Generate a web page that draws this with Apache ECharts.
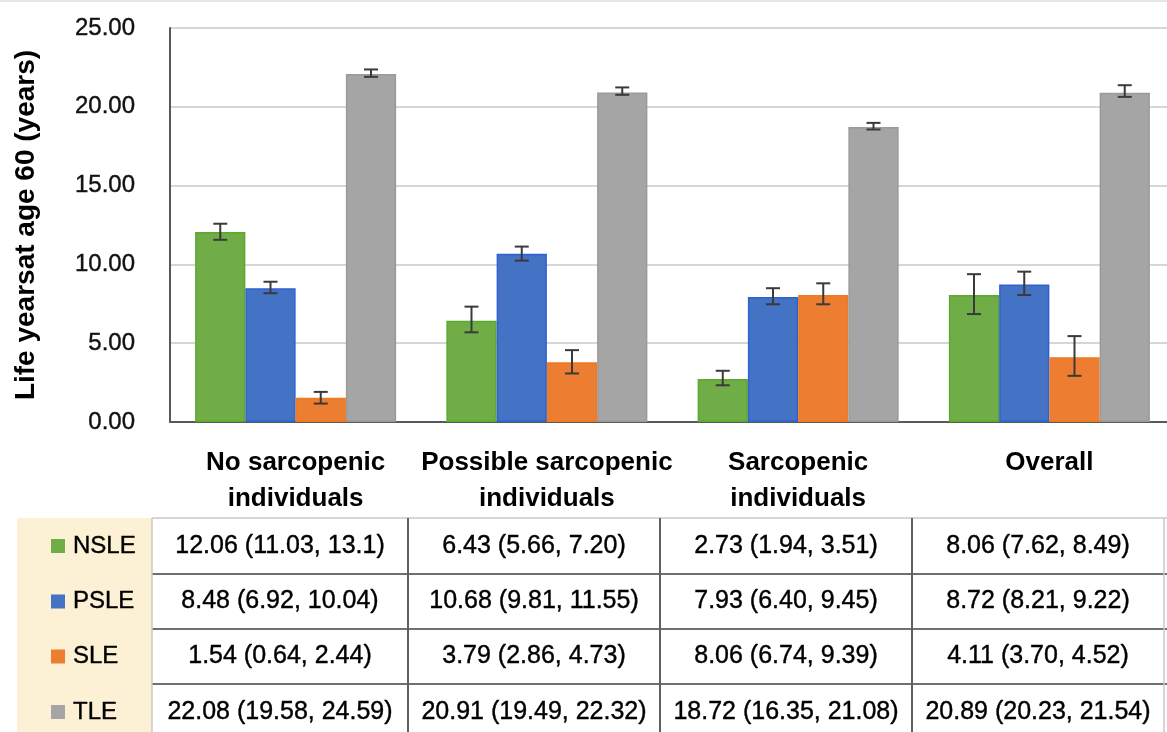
<!DOCTYPE html>
<html>
<head>
<meta charset="utf-8">
<script src="https://cdn.jsdelivr.net/npm/echarts@6/dist/echarts.min.js"></script>
<style>
html,body{margin:0;padding:0;background:#fff;}
#chart{width:1167px;height:732px;}
</style>
</head>
<body>
<div id="chart"></div>
<script>
// ---- data ----
const categories = ['No sarcopenic\nindividuals', 'Possible sarcopenic\nindividuals', 'Sarcopenic\nindividuals', 'Overall'];
const seriesNames = ['NSLE', 'PSLE', 'SLE', 'TLE'];
const nsle = [12.06, 6.43, 2.73, 8.06];
const psle = [8.48, 10.68, 7.93, 8.72];
const sle  = [1.54, 3.79, 8.06, 4.11];
const tle  = [22.08, 20.91, 18.72, 20.89];
// confidence intervals as printed in the table
const nsleCI = [['11.03', '13.1'], ['5.66', '7.20'], ['1.94', '3.51'], ['7.62', '8.49']];
const psleCI = [['6.92', '10.04'], ['9.81', '11.55'], ['6.40', '9.45'], ['8.21', '9.22']];
const sleCI  = [['0.64', '2.44'], ['2.86', '4.73'], ['6.74', '9.39'], ['3.70', '4.52']];
const tleCI  = [['19.58', '24.59'], ['19.49', '22.32'], ['16.35', '21.08'], ['20.23', '21.54']];
// error bars as drawn in the chart (low, high)
const nsleErr = [[11.56, 12.58], [5.69, 7.32], [2.33, 3.25], [6.85, 9.38]];
const psleErr = [[8.17, 8.90], [10.24, 11.13], [7.47, 8.49], [8.06, 9.54]];
const sleErr  = [[1.17, 1.91], [3.08, 4.56], [7.47, 8.80], [2.93, 5.45]];
const tleErr  = [[21.90, 22.37], [20.76, 21.23], [18.56, 18.98], [20.63, 21.37]];
const yAxisTitle = 'Life yearsat age 60 (years)';

// ---- styling ----
const values = [nsle, psle, sle, tle];
const cis = [nsleCI, psleCI, sleCI, tleCI];
const errs = [nsleErr, psleErr, sleErr, tleErr];
const fills = ['#70AD47', '#4472C4', '#ED7D31', '#A5A5A5'];
const borders = ['#5BAA2E', '#2E62D0', '#F07A22', '#9A9A9A'];
const FONT = '"Liberation Sans", Arial, sans-serif';

const series = [];
seriesNames.forEach((name, s) => {
  series.push({
    name: name, type: 'bar', data: values[s],
    barGap: '0%', barCategoryGap: '20%',
    itemStyle: {color: fills[s], borderColor: borders[s], borderWidth: 1.5},
    silent: true
  });
});
seriesNames.forEach((name, s) => {
  series.push({
    type: 'custom', name: name + ' err',
    data: errs[s].map((e, i) => [i, e[0], e[1]]),
    encode: {x: 0, y: [1, 2]},
    z: 10, silent: true,
    renderItem: function (params, api) {
      const i = api.value(0);
      const catW = api.size([1, 0])[0];
      const barW = catW * 0.2;
      const off = (s - 1.5) * barW;
      const lo = api.coord([i, api.value(1)]);
      const hi = api.coord([i, api.value(2)]);
      const x = lo[0] + off;
      const cap = 7;
      const st = {stroke: '#3a3a3a', lineWidth: 2};
      return {type: 'group', children: [
        {type: 'line', shape: {x1: x, y1: lo[1], x2: x, y2: hi[1]}, style: st},
        {type: 'line', shape: {x1: x - cap, y1: lo[1], x2: x + cap, y2: lo[1]}, style: st},
        {type: 'line', shape: {x1: x - cap, y1: hi[1], x2: x + cap, y2: hi[1]}, style: st}
      ]};
    }
  });
});

// ---- table below the chart ----
const colEdges = [152, 408, 660, 912, 1164];
const rowEdges = [518, 574, 629, 684, 740];
const graphics = [];
graphics.push({type: 'rect', shape: {x: 17, y: 518, width: 135, height: 214}, style: {fill: '#FCF0D5'}, z: 1});
rowEdges.forEach((y, r) => {
  graphics.push({type: 'line', shape: {x1: 152, y1: y, x2: 1167, y2: y},
    style: {stroke: r === 0 ? '#C8C8C8' : '#707070', lineWidth: r === 0 ? 1.5 : 2}, z: 3});
});
colEdges.forEach((x, c) => {
  const edge = (c === 0 || c === colEdges.length - 1);
  graphics.push({type: 'line', shape: {x1: x, y1: 518, x2: x, y2: 732},
    style: {stroke: edge ? '#C8C8C8' : '#606060', lineWidth: edge ? 1.5 : 2}, z: 3});
});
function cellText(text, x, y, align, size) {
  return {type: 'text', x: x, y: y, z: 4,
    style: {text: text, font: size + 'px ' + FONT, fill: '#000', stroke: '#000', lineWidth: 0.4,
      textAlign: align, textVerticalAlign: 'middle'}};
}
seriesNames.forEach((name, s) => {
  const cy = (rowEdges[s] + rowEdges[s + 1]) / 2;
  graphics.push({type: 'rect', shape: {x: 51, y: cy - 7, width: 14, height: 14}, style: {fill: fills[s]}, z: 4});
  graphics.push(cellText(name, 73, cy, 'left', 24));
  for (let c = 0; c < categories.length; c++) {
    const cx = (colEdges[c] + colEdges[c + 1]) / 2;
    const txt = values[s][c].toFixed(2) + ' (' + cis[s][c][0] + ', ' + cis[s][c][1] + ')';
    graphics.push(cellText(txt, cx, cy, 'center', 25));
  }
});
graphics.push({type: 'line', shape: {x1: 0, y1: 1, x2: 1167, y2: 1}, style: {stroke: '#E6E6E6', lineWidth: 2}});

const chart = echarts.init(document.getElementById('chart'), null, {renderer: 'canvas'});
chart.setOption({
  backgroundColor: '#fff',
  animation: false,
  grid: {left: 170, top: 28, width: 1005, height: 394, containLabel: false, outerBoundsMode: 'none'},
  xAxis: {
    type: 'category', data: categories,
    axisLine: {lineStyle: {color: '#595959', width: 2}},
    axisTick: {show: false},
    axisLabel: {fontFamily: FONT, fontWeight: 'bold', fontSize: 26, color: '#000', lineHeight: 36, margin: 23, interval: 0}
  },
  yAxis: {
    type: 'value', min: 0, max: 25, interval: 5,
    name: yAxisTitle, nameLocation: 'middle', nameGap: 130, nameRotate: 90,
    nameTextStyle: {fontFamily: FONT, fontWeight: 'bold', fontSize: 28, color: '#000'},
    axisLine: {show: true, lineStyle: {color: '#595959', width: 2}},
    axisTick: {show: false},
    axisLabel: {fontFamily: FONT, fontSize: 24, color: '#111', textBorderColor: '#111', textBorderWidth: 0.4, margin: 35, formatter: v => v.toFixed(2)},
    splitLine: {lineStyle: {color: '#D6D6D6', width: 2}}
  },
  series: series,
  graphic: graphics
});
</script>
</body>
</html>
